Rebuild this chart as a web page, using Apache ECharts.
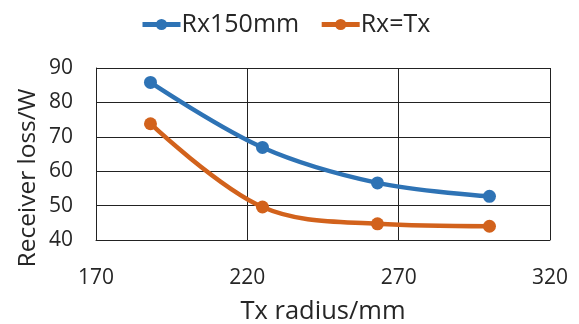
<!DOCTYPE html>
<html>
<head>
<meta charset="utf-8">
<script src="https://cdn.jsdelivr.net/npm/echarts@6/dist/echarts.min.js"></script>
<style>
  html, body { margin: 0; padding: 0; background: #fff; }
  #chart { width: 579px; height: 324px; }
</style>
</head>
<body>
<div id="chart"></div>
<script>
// Receiver loss versus transmitter radius
const txRadius = [188, 225, 263, 300];
const rx150mm = [85.8, 66.9, 56.6, 52.7];
const rxEqTx = [73.8, 49.6, 44.7, 44.0];
const seriesNames = ['Rx150mm', 'Rx=Tx'];
const xTitle = 'Tx radius/mm';
const yTitle = 'Receiver loss/W';

const FONT = '"Open Sans", "Liberation Sans", sans-serif';
const TEXT = '#262626';
const BLUE = '#2e73b5';
const ORANGE = '#d2621c';

const chart = echarts.init(document.getElementById('chart'));

function pairs(xs, ys) {
  return xs.map((x, i) => [x, ys[i]]);
}

chart.setOption({
  animation: false,
  textStyle: { fontFamily: FONT },
  legend: {
    top: 7,
    left: 135,
    itemWidth: 38,
    itemHeight: 14,
    itemGap: 20,
    lineStyle: { width: 5 },
    textStyle: { fontSize: 25, color: TEXT, fontFamily: FONT, padding: [0, 0, 0, -4] },
    data: seriesNames
  },
  grid: { left: 96, right: 29, top: 68, bottom: 84, outerBoundsMode: 'none', containLabel: false },
  // rotated y-axis title, sits slightly below the plot's vertical middle
  graphic: [{
    type: 'text',
    x: 28,
    y: 178,
    rotation: Math.PI / 2,
    style: {
      text: yTitle,
      font: '24.5px ' + FONT,
      fill: TEXT,
      align: 'center',
      verticalAlign: 'middle'
    }
  }],
  xAxis: {
    type: 'value',
    min: 170, max: 320, interval: 50,
    name: xTitle,
    nameLocation: 'middle',
    nameGap: 59,
    nameTextStyle: { fontSize: 25.5, color: TEXT, fontFamily: FONT },
    axisLine: { show: true, lineStyle: { color: '#222', width: 1 } },
    axisTick: { show: false },
    axisLabel: { fontSize: 21, color: TEXT, margin: 28, fontFamily: FONT },
    splitLine: { show: true, lineStyle: { color: '#222', width: 1 } }
  },
  yAxis: {
    type: 'value',
    min: 40, max: 90, interval: 10,
    axisLine: { show: true, lineStyle: { color: '#222', width: 1 } },
    axisTick: { show: false },
    axisLabel: { fontSize: 21, color: TEXT, margin: 23, fontFamily: FONT },
    splitLine: { show: true, lineStyle: { color: '#222', width: 1 } }
  },
  series: [
    {
      name: seriesNames[0],
      type: 'line',
      smooth: 0.35,
      data: pairs(txRadius, rx150mm),
      symbol: 'circle',
      symbolSize: 13,
      lineStyle: { width: 4.5, color: BLUE },
      itemStyle: { color: BLUE }
    },
    {
      name: seriesNames[1],
      type: 'line',
      smooth: 0.35,
      data: pairs(txRadius, rxEqTx),
      symbol: 'circle',
      symbolSize: 13,
      lineStyle: { width: 4.5, color: ORANGE },
      itemStyle: { color: ORANGE }
    }
  ]
});
</script>
</body>
</html>
